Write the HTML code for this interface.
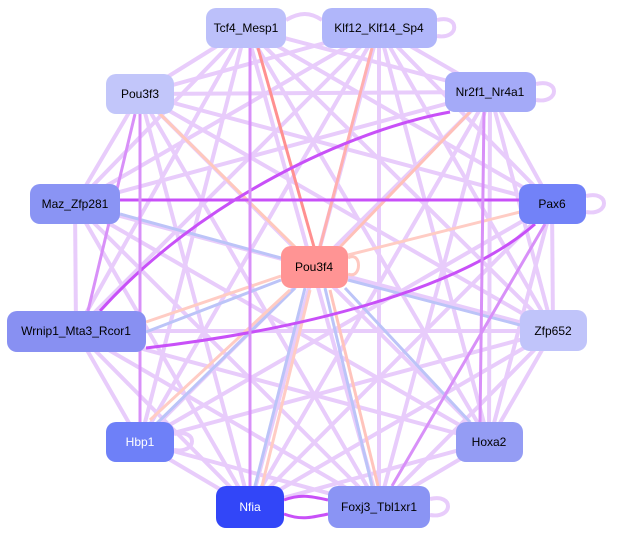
<!DOCTYPE html>
<html><head><style>
html,body{margin:0;padding:0;background:#fff;}
svg{display:block;}
text{font-family:"Liberation Sans",sans-serif;font-size:12px;text-anchor:middle;dominant-baseline:central;}
</style></head><body>
<svg width="619" height="536" viewBox="0 0 619 536" xmlns="http://www.w3.org/2000/svg">
<g stroke="#e8ccfb" stroke-width="4" fill="none">
<line x1="246" y1="28" x2="140" y2="94"/>
<line x1="246" y1="28" x2="490" y2="92"/>
<line x1="246" y1="28" x2="75" y2="204"/>
<line x1="246" y1="28" x2="552" y2="204"/>
<line x1="246" y1="28" x2="76" y2="331"/>
<line x1="246" y1="28" x2="553" y2="331"/>
<line x1="246" y1="28" x2="140" y2="442"/>
<line x1="246" y1="28" x2="489" y2="442"/>
<line x1="246" y1="28" x2="379" y2="507"/>
<line x1="379" y1="28" x2="140" y2="94"/>
<line x1="379" y1="28" x2="490" y2="92"/>
<line x1="379" y1="28" x2="75" y2="204"/>
<line x1="379" y1="28" x2="552" y2="204"/>
<line x1="379" y1="28" x2="76" y2="331"/>
<line x1="379" y1="28" x2="553" y2="331"/>
<line x1="379" y1="28" x2="140" y2="442"/>
<line x1="379" y1="28" x2="489" y2="442"/>
<line x1="379" y1="28" x2="250" y2="507"/>
<line x1="379" y1="28" x2="379" y2="507"/>
<line x1="140" y1="94" x2="490" y2="92"/>
<line x1="140" y1="94" x2="75" y2="204"/>
<line x1="140" y1="94" x2="552" y2="204"/>
<line x1="140" y1="94" x2="553" y2="331"/>
<line x1="140" y1="94" x2="489" y2="442"/>
<line x1="140" y1="94" x2="250" y2="507"/>
<line x1="140" y1="94" x2="379" y2="507"/>
<line x1="490" y1="92" x2="75" y2="204"/>
<line x1="490" y1="92" x2="552" y2="204"/>
<line x1="490" y1="92" x2="553" y2="331"/>
<line x1="490" y1="92" x2="140" y2="442"/>
<line x1="490" y1="92" x2="250" y2="507"/>
<line x1="490" y1="92" x2="379" y2="507"/>
<line x1="75" y1="204" x2="76" y2="331"/>
<line x1="75" y1="204" x2="553" y2="331"/>
<line x1="75" y1="204" x2="489" y2="442"/>
<line x1="75" y1="204" x2="379" y2="507"/>
<line x1="75" y1="204" x2="250" y2="507"/>
<line x1="552" y1="204" x2="553" y2="331"/>
<line x1="552" y1="204" x2="140" y2="442"/>
<line x1="552" y1="204" x2="250" y2="507"/>
<line x1="552" y1="204" x2="489" y2="442"/>
<line x1="76" y1="331" x2="553" y2="331"/>
<line x1="76" y1="331" x2="489" y2="442"/>
<line x1="76" y1="331" x2="250" y2="507"/>
<line x1="76" y1="331" x2="379" y2="507"/>
<line x1="76" y1="331" x2="140" y2="442"/>
<line x1="553" y1="331" x2="140" y2="442"/>
<line x1="553" y1="331" x2="250" y2="507"/>
<line x1="553" y1="331" x2="379" y2="507"/>
<line x1="553" y1="331" x2="489" y2="442"/>
<line x1="140" y1="442" x2="379" y2="507"/>
<line x1="140" y1="442" x2="250" y2="507"/>
<line x1="489" y1="442" x2="250" y2="507"/>
<line x1="489" y1="442" x2="379" y2="507"/>
<line x1="489" y1="442" x2="490" y2="92"/>
<path d="M286,20 C300,12 310,12 322,20"/>
<path d="M437,20 C460,14 460,40 437,36"/>
<path d="M536,84 C560,78 560,104 536,100"/>
<path d="M586,196 C610,190 610,216 586,212"/>
<path d="M174,434 C198,428 198,454 174,450"/>
<path d="M430,499 C454,493 454,519 430,515"/>
</g>
<g fill="none" stroke-width="3">
<line x1="314" y1="247" x2="258" y2="48" stroke="#ff9090"/>
<line x1="320" y1="247" x2="372" y2="48" stroke="#ffb0b0"/>
<line x1="340" y1="247" x2="470" y2="112" stroke="#ffc0b8"/>
<line x1="348" y1="255" x2="520" y2="212" stroke="#ffccc4"/>
<line x1="295" y1="247" x2="160" y2="114" stroke="#ffc8bc"/>
<path d="M348,258 C362,250 362,280 348,274" stroke="#ffc8c0"/>
<line x1="120" y1="214" x2="281" y2="258" stroke="#bcc4f8"/>
<line x1="146" y1="322" x2="281" y2="276" stroke="#ffccc4"/>
<line x1="146" y1="332" x2="281" y2="280" stroke="#bcc4f8"/>
<line x1="150" y1="430" x2="295" y2="288" stroke="#bcc4f8"/>
<line x1="150" y1="420" x2="290" y2="290" stroke="#ffccc4"/>
<line x1="255" y1="486" x2="305" y2="288" stroke="#bcc4f8"/>
<line x1="262" y1="486" x2="310" y2="290" stroke="#ffccc4"/>
<line x1="372" y1="486" x2="325" y2="288" stroke="#bcc4f8"/>
<line x1="378" y1="486" x2="330" y2="290" stroke="#ffc4bc"/>
<line x1="470" y1="422" x2="345" y2="288" stroke="#bcc4f8"/>
<line x1="520" y1="325" x2="348" y2="280" stroke="#bcc4f8"/>
</g>
<g fill="none" stroke="#c850f8" stroke-width="3">
<line x1="120" y1="200" x2="519" y2="200"/>
<path d="M146,348 C300,330 460,290 535,224"/>
<path d="M100,311 C200,200 350,130 450,112"/>
<path d="M284,500 C300,494 310,496 328,500"/>
<path d="M284,514 C300,520 310,518 328,514"/>
</g>
<g fill="none" stroke="#d890f8" stroke-width="3">
<line x1="250" y1="486" x2="250" y2="48"/>
<line x1="140" y1="422" x2="140" y2="114"/>
<line x1="392" y1="486" x2="545" y2="224"/>
<line x1="88" y1="311" x2="135" y2="114"/>
<line x1="480" y1="422" x2="484" y2="112"/>
</g>
<g>
<rect x="206" y="8" width="80" height="40" rx="10" fill="#bcc0fa"/>
<text x="246" y="28">Tcf4_Mesp1</text>
<rect x="322" y="8" width="115" height="40" rx="10" fill="#b0b6fa"/>
<text x="379" y="28">Klf12_Klf14_Sp4</text>
<rect x="106" y="74" width="68" height="40" rx="10" fill="#c2c6fa"/>
<text x="140" y="94">Pou3f3</text>
<rect x="445" y="72" width="91" height="40" rx="10" fill="#a4aaf8"/>
<text x="490" y="92">Nr2f1_Nr4a1</text>
<rect x="30" y="184" width="90" height="40" rx="10" fill="#8a94f4"/>
<text x="75" y="204">Maz_Zfp281</text>
<rect x="519" y="184" width="67" height="40" rx="10" fill="#7282f8"/>
<text x="552" y="204">Pax6</text>
<rect x="281" y="246" width="67" height="42" rx="10" fill="#ff9494"/>
<text x="314" y="267">Pou3f4</text>
<rect x="7" y="311" width="139" height="41" rx="10" fill="#8890f2"/>
<text x="76" y="331">Wrnip1_Mta3_Rcor1</text>
<rect x="520" y="310" width="67" height="41" rx="10" fill="#c0c4fa"/>
<text x="553" y="331">Zfp652</text>
<rect x="106" y="422" width="68" height="40" rx="10" fill="#6e80f8"/>
<text x="140" y="442" fill="#fff">Hbp1</text>
<rect x="456" y="422" width="67" height="40" rx="10" fill="#949cf4"/>
<text x="489" y="442">Hoxa2</text>
<rect x="216" y="486" width="68" height="42" rx="10" fill="#3246f8"/>
<text x="250" y="507" fill="#fff">Nfia</text>
<rect x="328" y="486" width="102" height="42" rx="10" fill="#8a94f4"/>
<text x="379" y="507">Foxj3_Tbl1xr1</text>
</g>
</svg>
</body></html>
